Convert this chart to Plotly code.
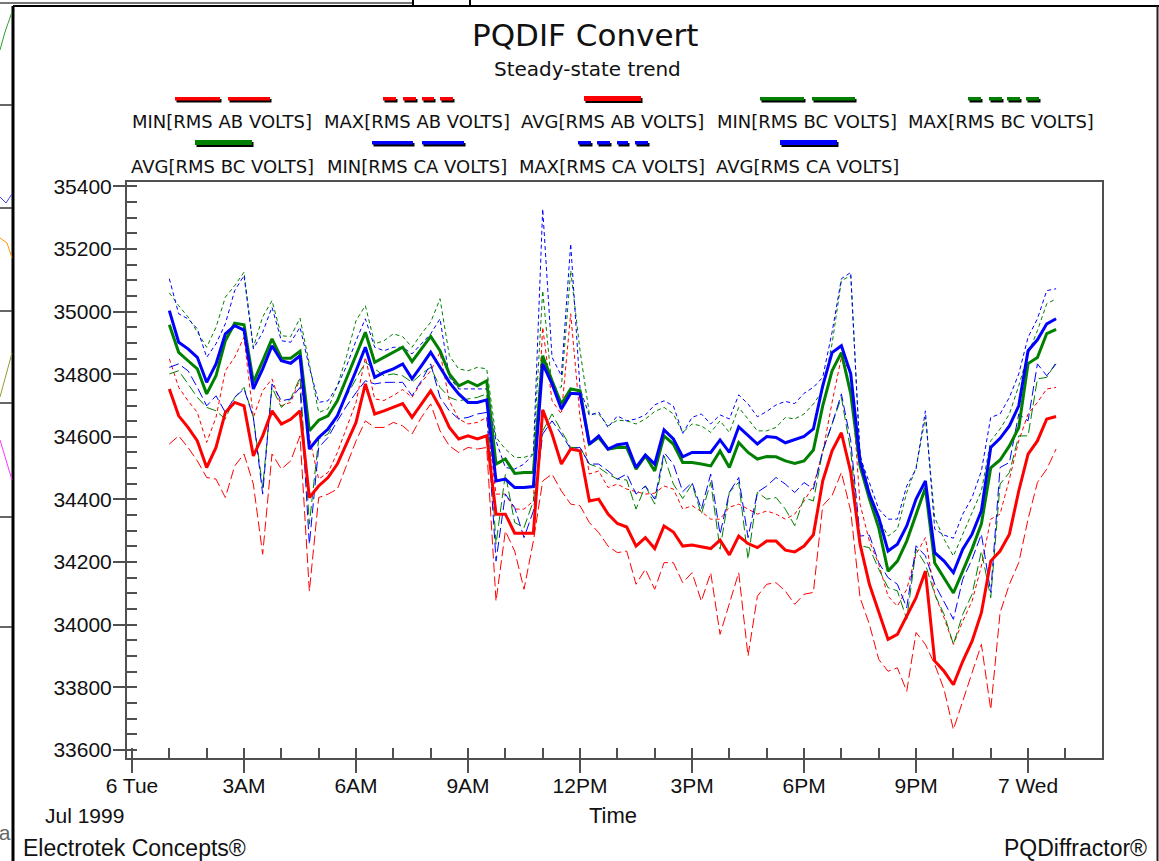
import plotly.graph_objects as go
import pandas as pd

# ---------------- data (15-minute trend, 6-7 Jul 1999) ----------------
times = pd.date_range("1999-07-06 01:00", periods=96, freq="15min")

min_ab = [34577, 34603, 34566, 34523, 34470, 34465, 34406, 34507, 34545, 34449,
          34225, 34545, 34497, 34523, 34603, 34107, 34406, 34417, 34433, 34513,
          34587, 34651, 34630, 34630, 34646, 34635, 34609, 34662, 34705, 34619,
          34571, 34550, 34566, 34561, 34566, 34075, 34299, 34235, 34113, 34267,
          34459, 34481, 34427, 34385, 34380, 34326, 34294, 34251, 34230, 34235,
          34129, 34177, 34113, 34198, 34198, 34134, 34166, 34075, 34166, 33969,
          34065, 34166, 33900, 34091, 34129, 34134, 34107, 34065, 34097, 34103,
          34380, 34412, 34486, 34363, 34086, 34001, 33889, 33851, 33862, 33787,
          33975, 33937, 33873, 33793, 33665, 33756, 33851, 33937, 33729, 34038,
          34129, 34198, 34337, 34454, 34497, 34561]
max_ab = [34849, 34758, 34715, 34678, 34582, 34662, 34811, 34854, 34918, 34662,
          34747, 34785, 34699, 34710, 34785, 34598, 34465, 34486, 34550, 34630,
          34710, 34854, 34721, 34716, 34732, 34751, 34726, 34774, 34811, 34870,
          34715, 34657, 34641, 34646, 34662, 34417, 34417, 34369, 34369, 34395,
          34950, 34715, 34673, 34993, 34662, 34481, 34491, 34438, 34449, 34433,
          34425, 34417, 34420, 34443, 34433, 34369, 34380, 34361, 34337, 34337,
          34375, 34385, 34369, 34353, 34363, 34353, 34337, 34353, 34395, 34443,
          34550, 34710, 34854, 34806, 34385, 34267, 34193, 34091, 34059, 34113,
          34225, 34278, 34097, 34022, 33937, 34011, 34075, 34187, 34337, 34353,
          34465, 34587, 34673, 34710, 34753, 34758]
avg_ab = [34753, 34667, 34630, 34587, 34502, 34566, 34678, 34710, 34699, 34539,
          34603, 34683, 34641, 34656, 34683, 34406, 34443, 34470, 34513, 34577,
          34646, 34769, 34673, 34683, 34694, 34706, 34662, 34705, 34747, 34694,
          34630, 34593, 34603, 34593, 34603, 34353, 34353, 34292, 34292, 34292,
          34686, 34609, 34513, 34561, 34555, 34395, 34401, 34353, 34323, 34312,
          34251, 34278, 34243, 34315, 34296, 34251, 34254, 34249, 34243, 34270,
          34223, 34283, 34259, 34246, 34267, 34267, 34238, 34232, 34251, 34287,
          34459, 34555, 34613, 34487, 34257, 34129, 34038, 33953, 33969, 34027,
          34086, 34171, 33884, 33851, 33808, 33883, 33947, 34038, 34203, 34235,
          34289, 34427, 34545, 34587, 34657, 34665]
min_bc = [34801, 34811, 34769, 34726, 34694, 34683, 34657, 34726, 34758, 34662,
          34438, 34758, 34694, 34721, 34790, 34321, 34593, 34609, 34667, 34731,
          34785, 34838, 34817, 34795, 34801, 34795, 34774, 34801, 34822, 34758,
          34726, 34715, 34721, 34726, 34737, 34257, 34481, 34326, 34310, 34395,
          34619, 34673, 34619, 34566, 34566, 34513, 34502, 34481, 34465, 34462,
          34369, 34443, 34385, 34539, 34449, 34403, 34449, 34353, 34455, 34241,
          34423, 34455, 34209, 34423, 34401, 34406, 34369, 34316, 34406, 34395,
          34555, 34641, 34726, 34555, 34252, 34246, 34177, 34118, 34108, 34017,
          34241, 34193, 34097, 34033, 33937, 34033, 34097, 34235, 34086, 34449,
          34486, 34603, 34603, 34785, 34790, 34838]
max_bc = [35060, 35019, 34983, 34934, 34886, 34950, 35046, 35083, 35126, 34886,
          34983, 35035, 34923, 34920, 34979, 34833, 34678, 34689, 34763, 34859,
          34971, 35019, 34897, 34907, 34929, 34920, 34886, 34929, 34966, 35041,
          34859, 34817, 34811, 34822, 34817, 34598, 34561, 34534, 34534, 34545,
          35067, 34753, 34759, 35131, 34875, 34673, 34673, 34635, 34653, 34651,
          34641, 34657, 34681, 34694, 34673, 34614, 34641, 34635, 34614, 34651,
          34614, 34694, 34657, 34619, 34619, 34630, 34662, 34657, 34673, 34705,
          34747, 34897, 35099, 35115, 34545, 34427, 34337, 34283, 34305, 34422,
          34502, 34662, 34342, 34273, 34219, 34289, 34358, 34427, 34587, 34625,
          34673, 34763, 34865, 34939, 35025, 35041]
avg_bc = [34958, 34870, 34843, 34817, 34737, 34795, 34907, 34963, 34958, 34774,
          34843, 34913, 34851, 34851, 34873, 34619, 34653, 34667, 34715, 34790,
          34865, 34934, 34838, 34854, 34870, 34886, 34840, 34881, 34921, 34875,
          34801, 34763, 34777, 34763, 34779, 34513, 34529, 34483, 34486, 34486,
          34859, 34779, 34705, 34753, 34747, 34577, 34598, 34561, 34566, 34566,
          34497, 34539, 34491, 34603, 34577, 34518, 34518, 34513, 34507, 34555,
          34502, 34582, 34550, 34529, 34537, 34536, 34523, 34515, 34523, 34558,
          34699, 34811, 34869, 34738, 34507, 34402, 34309, 34171, 34203, 34267,
          34354, 34437, 34197, 34149, 34101, 34171, 34242, 34322, 34501, 34526,
          34571, 34629, 34834, 34853, 34930, 34943]
min_ca = [34822, 34833, 34811, 34758, 34699, 34731, 34678, 34726, 34753, 34662,
          34417, 34769, 34715, 34721, 34758, 34257, 34566, 34598, 34651, 34699,
          34741, 34779, 34769, 34774, 34774, 34774, 34731, 34779, 34833, 34726,
          34683, 34657, 34662, 34673, 34678, 34203, 34417, 34374, 34278, 34363,
          34609, 34651, 34609, 34561, 34566, 34513, 34513, 34491, 34465, 34481,
          34417, 34443, 34401, 34550, 34513, 34425, 34454, 34369, 34481, 34289,
          34423, 34470, 34278, 34423, 34443, 34470, 34449, 34422, 34454, 34433,
          34555, 34641, 34737, 34587, 34283, 34286, 34198, 34150, 34129, 34054,
          34252, 34220, 34129, 34075, 34017, 34145, 34209, 34289, 34103, 34502,
          34518, 34673, 34651, 34833, 34795, 34833]
max_ca = [35105, 34993, 34977, 34945, 34854, 34897, 34961, 35067, 35115, 34881,
          34934, 35014, 34907, 34902, 34950, 34822, 34710, 34715, 34762, 34827,
          34907, 34977, 34886, 34875, 34886, 34886, 34865, 34897, 34929, 34977,
          34790, 34753, 34753, 34753, 34753, 34587, 34502, 34497, 34513, 34545,
          35328, 34854, 34795, 35217, 34753, 34668, 34679, 34630, 34667, 34651,
          34657, 34670, 34702, 34715, 34699, 34611, 34662, 34673, 34641, 34670,
          34657, 34734, 34705, 34664, 34681, 34702, 34713, 34706, 34739, 34758,
          34790, 34934, 35105, 35125, 34534, 34454, 34369, 34337, 34337, 34443,
          34497, 34683, 34305, 34286, 34276, 34353, 34406, 34491, 34662, 34673,
          34726, 34801, 34918, 34977, 35067, 35073]
avg_ca = [35003, 34902, 34881, 34854, 34774, 34833, 34929, 34955, 34941, 34753,
          34817, 34891, 34843, 34835, 34859, 34561, 34598, 34625, 34667, 34737,
          34811, 34886, 34790, 34806, 34817, 34833, 34785, 34827, 34870, 34822,
          34774, 34737, 34710, 34710, 34718, 34459, 34465, 34438, 34438, 34441,
          34833, 34769, 34689, 34739, 34737, 34577, 34603, 34561, 34575, 34579,
          34502, 34542, 34513, 34622, 34593, 34536, 34550, 34550, 34550, 34590,
          34550, 34632, 34603, 34577, 34601, 34598, 34581, 34590, 34601, 34625,
          34763, 34869, 34891, 34801, 34523, 34417, 34342, 34235, 34257, 34315,
          34401, 34459, 34230, 34203, 34166, 34241, 34289, 34364, 34566, 34595,
          34635, 34699, 34875, 34910, 34961, 34977]

series_names = ["MIN[RMS AB VOLTS]", "MAX[RMS AB VOLTS]", "AVG[RMS AB VOLTS]",
                "MIN[RMS BC VOLTS]", "MAX[RMS BC VOLTS]", "AVG[RMS BC VOLTS]",
                "MIN[RMS CA VOLTS]", "MAX[RMS CA VOLTS]", "AVG[RMS CA VOLTS]"]
series_values = [min_ab, max_ab, avg_ab, min_bc, max_bc, avg_bc, min_ca, max_ca, avg_ca]

x_tick_labels = ["6 Tue", "3AM", "6AM", "9AM", "12PM", "3PM", "6PM", "9PM", "7 Wed"]
y_tick_values = [33600, 33800, 34000, 34200, 34400, 34600, 34800, 35000, 35200, 35400]

# ---------------- styling ----------------
RED, GREEN, BLUE = "#FF0000", "#008000", "#0000FF"
colors = [RED, RED, RED, GREEN, GREEN, GREEN, BLUE, BLUE, BLUE]
kinds = ["min", "max", "avg"] * 3
style = {
    "min": dict(width=1, dash="10px,4px"),
    "max": dict(width=1, dash="4px,3px"),
    "avg": dict(width=3, dash="solid"),
}
FONT = "Liberation Sans, Arial, sans-serif"
HFONT = "DejaVu Sans, Verdana, sans-serif"

W, H = 1159, 861
ML, MR, MT, MB = 127, 57, 182, 103
PW, PH = W - ML - MR, H - MT - MB


def pxx(x):
    return (x - ML) / PW


def pxy(y):
    return (H - MB - y) / PH


fig = go.Figure()
draw_order = [0, 1, 3, 4, 6, 7, 2, 5, 8]
for k in draw_order:
    vals = series_values[k]
    fig.add_trace(go.Scatter(
        x=times[:len(vals)], y=vals, mode="lines", name=series_names[k],
        line=dict(color=colors[k], **style[kinds[k]]), showlegend=False,
        hoverinfo="skip"))

# helper trace for the overlay axes carrying the inner minor ticks
fig.add_trace(go.Scatter(x=[times[0]], y=[35000], mode="lines", xaxis="x2", yaxis="y2",
                         showlegend=False, hoverinfo="skip"))

day0 = pd.Timestamp("1999-07-06 00:00")
x_range = [day0 - pd.Timedelta(hours=0.134), day0 + pd.Timedelta(hours=25.98)]
y_range = [33574, 35414]
tick_times = pd.date_range(day0, periods=len(x_tick_labels), freq="3h")

AX = "#505050"
fig.update_layout(
    width=W, height=H,
    margin=dict(l=ML, r=MR, t=MT, b=MB, pad=0),
    paper_bgcolor="white", plot_bgcolor="white",
    font=dict(family=FONT, color="#111111"),
    xaxis=dict(type="date", range=x_range, tickvals=tick_times, ticktext=x_tick_labels,
               ticks="outside", ticklen=13, tickwidth=2, tickcolor=AX,
               ticklabelstandoff=-5,
               showline=True, linewidth=2, linecolor=AX, mirror=True,
               showgrid=False, zeroline=False,
               tickfont=dict(family=FONT, size=21, color="#111111")),
    yaxis=dict(range=y_range, tickvals=y_tick_values, tickformat="d",
               ticks="outside", ticklen=12, tickwidth=2, tickcolor=AX,
               ticklabelstandoff=-3,
               showline=True, linewidth=2, linecolor=AX, mirror=True,
               showgrid=False, zeroline=False,
               tickfont=dict(family=FONT, size=21, color="#111111")),
    xaxis2=dict(type="date", overlaying="x", anchor="y", side="bottom", range=x_range,
                tick0=day0, dtick=3600000, ticks="inside", ticklen=10, tickwidth=2,
                tickcolor=AX, showticklabels=False, showline=False, showgrid=False,
                zeroline=False),
    yaxis2=dict(overlaying="y", anchor="x", side="left", range=y_range,
                tick0=0, dtick=50, ticks="inside", ticklen=10, tickwidth=2,
                tickcolor=AX, showticklabels=False, showline=False, showgrid=False,
                zeroline=False),
)

annotations = []
shapes = []


def text(s, x, y, size, xanchor="center", color="#111111", family=FONT):
    annotations.append(dict(text=s, x=pxx(x), y=pxy(y), xref="paper", yref="paper",
                            xanchor=xanchor, yanchor="middle", showarrow=False,
                            font=dict(family=family, size=size, color=color)))


def rect(x0, y0, x1, y1, fill):
    shapes.append(dict(type="rect", xref="paper", yref="paper",
                       x0=pxx(x0), x1=pxx(x1), y0=pxy(y1), y1=pxy(y0),
                       fillcolor=fill, line=dict(width=0), layer="above"))


def line(x0, y0, x1, y1, color, width):
    shapes.append(dict(type="line", xref="paper", yref="paper",
                       x0=pxx(x0), x1=pxx(x1), y0=pxy(y0), y1=pxy(y1),
                       line=dict(color=color, width=width), layer="above"))


def path(points, color, width):
    d = "M" + " L".join(f"{pxx(a):.5f},{pxy(b):.5f}" for a, b in points)
    shapes.append(dict(type="path", xref="paper", yref="paper", path=d,
                       line=dict(color=color, width=width), layer="above"))


# titles
text("PQDIF Convert", 585, 35, 31, family=HFONT)
text("Steady-state trend", 587, 69, 20, family=HFONT)

# custom legend: sample bar above each label
legend_layout = [  # (text centre x, bar y, text y, segments)
    (222, 99, 122, [(175, 220), (228, 270)]),
    (417, 99, 122, [(383, 396), (403, 416), (422, 434), (440, 453)]),
    (612, 99, 122, [(584, 641)]),
    (807, 99, 122, [(760, 804), (812, 855)]),
    (1001, 99, 122, [(968, 981), (989, 1002), (1007, 1020), (1026, 1039)]),
    (222, 143, 166, [(195, 252)]),
    (417, 143, 166, [(372, 413), (422, 464)]),
    (612, 143, 166, [(578, 591), (597, 610), (617, 628), (635, 648)]),
    (807, 143, 166, [(780, 837)]),
]
for k, (cx, by, ty, segs) in enumerate(legend_layout):
    thick = kinds[k] == "avg"
    h0, h1 = (3, 2) if thick else (2, 1.5)
    for a, b in segs:
        rect(a + 1.5, by - h0 + 2, b + 1.5, by + h1 + 2, "#000000")
        rect(a, by - h0, b, by + h1, colors[k])
    text(series_names[k], cx, ty, 18, family=HFONT)

# axis captions and footer
text("Jul 1999", 84, 815, 21)
text("Time", 613, 815, 22)
text("Electrotek Concepts®", 21, 848, 23, xanchor="left")
text("PQDiffractor®", 1149, 848, 23, xanchor="right")
text("ua", 13, 832, 21, xanchor="right", color="#666666")

# window frame of the screenshot
line(13, 6, 13, 861, "#000000", 3)
line(13, 6, 1159, 6, "#000000", 2)
line(1157.5, 6, 1157.5, 861, "#202020", 2)
line(0, 3, 413, 3, "#777777", 2)
line(413, 0, 413, 6, "#000000", 2)
line(470, 0, 470, 6, "#000000", 2)
for yy in (105, 208, 311, 403, 517, 627):
    line(0, yy, 12, yy, "#333333", 1.5)
path([(0, 50), (5, 32), (12, 12)], "#2ca02c", 1)
path([(0, 197), (6, 203), (12, 194)], "#4040ff", 1)
path([(0, 238), (7, 243), (12, 258)], "#ff9900", 1)
path([(0, 397), (12, 353)], "#999933", 1)
path([(0, 440), (12, 480)], "#ff33ff", 1)

fig.update_layout(annotations=annotations, shapes=shapes)
fig.write_html("out.html",
               config={"displayModeBar": False},
               post_script="document.body.style.margin='0px';"
                           "document.documentElement.style.overflow='hidden';")
